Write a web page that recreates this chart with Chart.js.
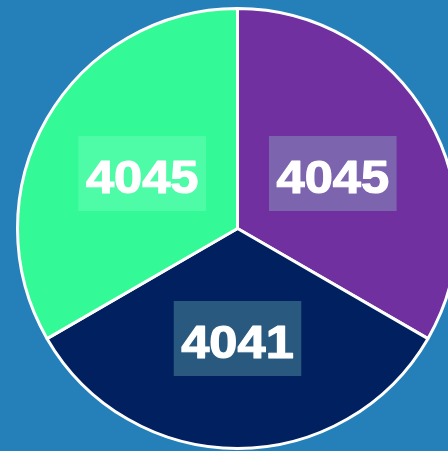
<!DOCTYPE html>
<html>
<head>
<meta charset="utf-8">
<script src="https://cdn.jsdelivr.net/npm/chart.js@4/dist/chart.umd.min.js"></script>
<style>
  html, body { margin: 0; padding: 0; width: 448px; height: 451px; overflow: hidden; background: #2580ba; }
  #pie { position: absolute; left: 16px; top: 7px; }
</style>
</head>
<body>
<canvas id="pie" width="443" height="443"></canvas>
<script>
  const categories = ['A', 'B', 'C']
  const values = [4045, 4041, 4045]
  const sliceColors = ['#7030a0', '#002060', '#33fa96']

  // value boxes drawn at the middle of each slice
  const valueBoxes = {
    id: 'valueBoxes',
    afterDatasetsDraw(chart) {
      const ctx = chart.ctx
      const meta = chart.getDatasetMeta(0)
      ctx.save()
      ctx.font = 'bold 46px "Liberation Sans", Arial, sans-serif'
      meta.data.forEach((arc, i) => {
        const p = arc.tooltipPosition()
        const text = String(chart.data.datasets[0].data[i])
        const w = ctx.measureText(text).width * 1.1
        const bw = w + 15, bh = 75
        ctx.fillStyle = 'rgba(160, 255, 215, 0.26)'
        ctx.fillRect(p.x - bw / 2, p.y - bh / 2, bw, bh)

        ctx.save()
        ctx.translate(p.x, p.y + 19.5)
        ctx.scale(1.1, 1)
        ctx.fillStyle = '#ffffff'
        ctx.strokeStyle = '#ffffff'
        ctx.lineWidth = 1.2
        ctx.lineJoin = 'round'
        ctx.textAlign = 'center'
        ctx.textBaseline = 'alphabetic'
        ctx.fillText(text, 0, 0)
        ctx.strokeText(text, 0, 0)
        ctx.restore()
      })
      ctx.restore()
    }
  }

  new Chart(document.getElementById('pie'), {
    type: 'pie',
    data: {
      labels: categories,
      datasets: [{
        data: values,
        backgroundColor: sliceColors,
        borderColor: '#ffffff',
        borderWidth: 3
      }]
    },
    options: {
      responsive: false,
      animation: false,
      devicePixelRatio: 1,
      layout: { padding: 0 },
      plugins: {
        legend: { display: false },
        tooltip: { enabled: false }
      }
    },
    plugins: [valueBoxes]
  })
</script>
</body>
</html>
